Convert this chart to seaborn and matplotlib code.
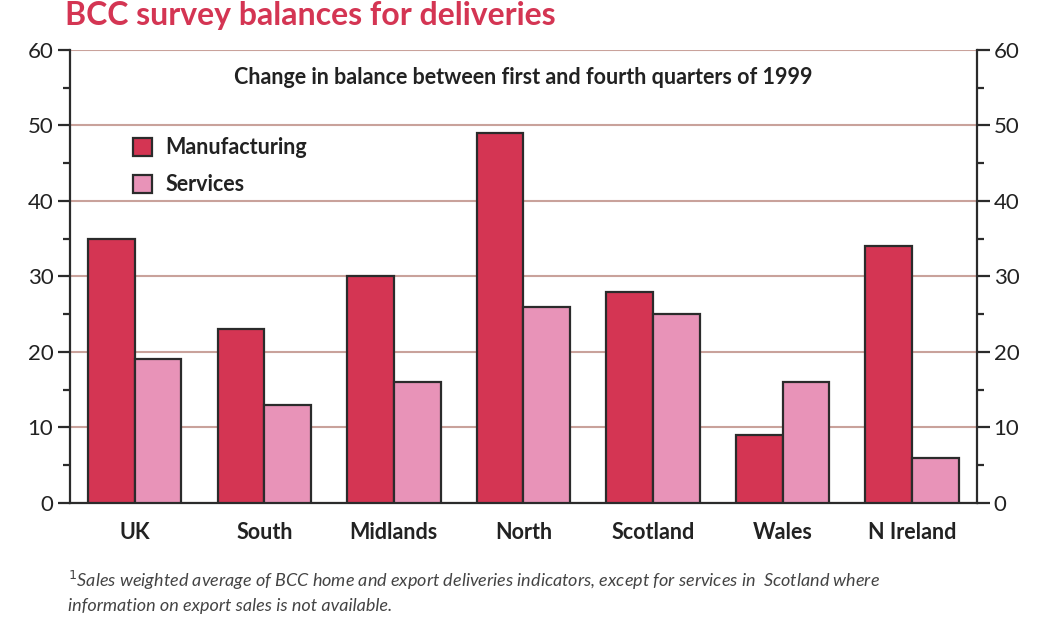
import matplotlib
matplotlib.use("Agg")
import numpy as np
import pandas as pd
import matplotlib.pyplot as plt
import seaborn as sns
from matplotlib.ticker import MultipleLocator

# Data
regions = ["UK", "South", "Midlands", "North", "Scotland", "Wales", "N Ireland"]
manufacturing = [35, 23, 30, 49, 28, 9, 34]
services = [19, 13, 16, 26, 25, 16, 6]

df = pd.DataFrame({
    "region": regions * 2,
    "sector": ["Manufacturing"] * len(regions) + ["Services"] * len(regions),
    "balance": manufacturing + services,
})

sns.set_style("white")
plt.rcParams["font.family"] = ["Lato", "DejaVu Sans"]

fig = plt.figure(figsize=(10.37, 6.17), dpi=100)
ax = fig.add_axes([0.0675, 0.185, 0.8745, 0.734])

sns.barplot(
    data=df, x="region", y="balance", hue="sector",
    palette=["#d43553", "#e893b8"], width=0.72, saturation=1,
    edgecolor="#2b2b2b", linewidth=1.6, ax=ax, zorder=3,
)

ax.set_xlim(-0.5, 6.5)
ax.set_ylim(0, 60)
ax.set_xlabel("")
ax.set_ylabel("")

# gridlines
ax.yaxis.set_major_locator(MultipleLocator(10))
ax.yaxis.set_minor_locator(MultipleLocator(5))
ax.grid(axis="y", which="major", color="#c9a29b", linewidth=1.5, zorder=0)
ax.set_axisbelow(True)

ax.spines["top"].set_visible(False)
for s in ["left", "right", "bottom"]:
    ax.spines[s].set_color("#2b2b2b")
    ax.spines[s].set_linewidth(1.6)

ax.tick_params(axis="x", length=0, labelsize=15.5, pad=14, colors="#222222")
for lab in ax.get_xticklabels():
    lab.set_fontweight("bold")
ax.tick_params(axis="y", which="major", direction="out", length=9, width=1.6,
               labelsize=16, colors="#2b2b2b", labelcolor="#222222", pad=3)
ax.tick_params(axis="y", which="minor", direction="out", length=5, width=1.6,
               colors="#2b2b2b")

ax2 = ax.twinx()
ax2.set_ylim(0, 60)
ax2.yaxis.set_major_locator(MultipleLocator(10))
ax2.yaxis.set_minor_locator(MultipleLocator(5))
ax2.tick_params(axis="y", which="major", direction="out", length=9, width=1.6,
                labelsize=16, colors="#2b2b2b", labelcolor="#222222", pad=3)
ax2.tick_params(axis="y", which="minor", direction="out", length=5, width=1.6,
                colors="#2b2b2b")
for s in ax2.spines.values():
    s.set_visible(False)

# legend
handles, labels = ax.get_legend_handles_labels()
leg = ax.legend(handles, labels, loc="upper left", bbox_to_anchor=(0.048, 0.85),
                frameon=False, fontsize=15.5, handlelength=0.9, handleheight=0.9,
                handletextpad=0.6, labelspacing=0.75)
for t in leg.get_texts():
    t.set_fontweight("bold")
    t.set_color("#222222")

ax.text(0.5, 0.94, "Change in balance between first and fourth quarters of 1999",
        transform=ax.transAxes, ha="center", va="center", fontsize=15.5,
        fontweight="bold", color="#222222")

fig.text(0.063, 0.999, "BCC survey balances for deliveries", ha="left",
         va="top", fontsize=23, fontweight="bold", color="#d43553")

fig.text(0.066, 0.06, "$^1$Sales weighted average of BCC home and export deliveries indicators, "
         "except for services in  Scotland where", ha="left", va="center",
         fontsize=13, style="italic", color="#444444")
fig.text(0.066, 0.018, "information on export sales is not available.", ha="left",
         va="center", fontsize=13, style="italic", color="#444444")

fig.savefig("out.png", dpi=100, facecolor="white")
